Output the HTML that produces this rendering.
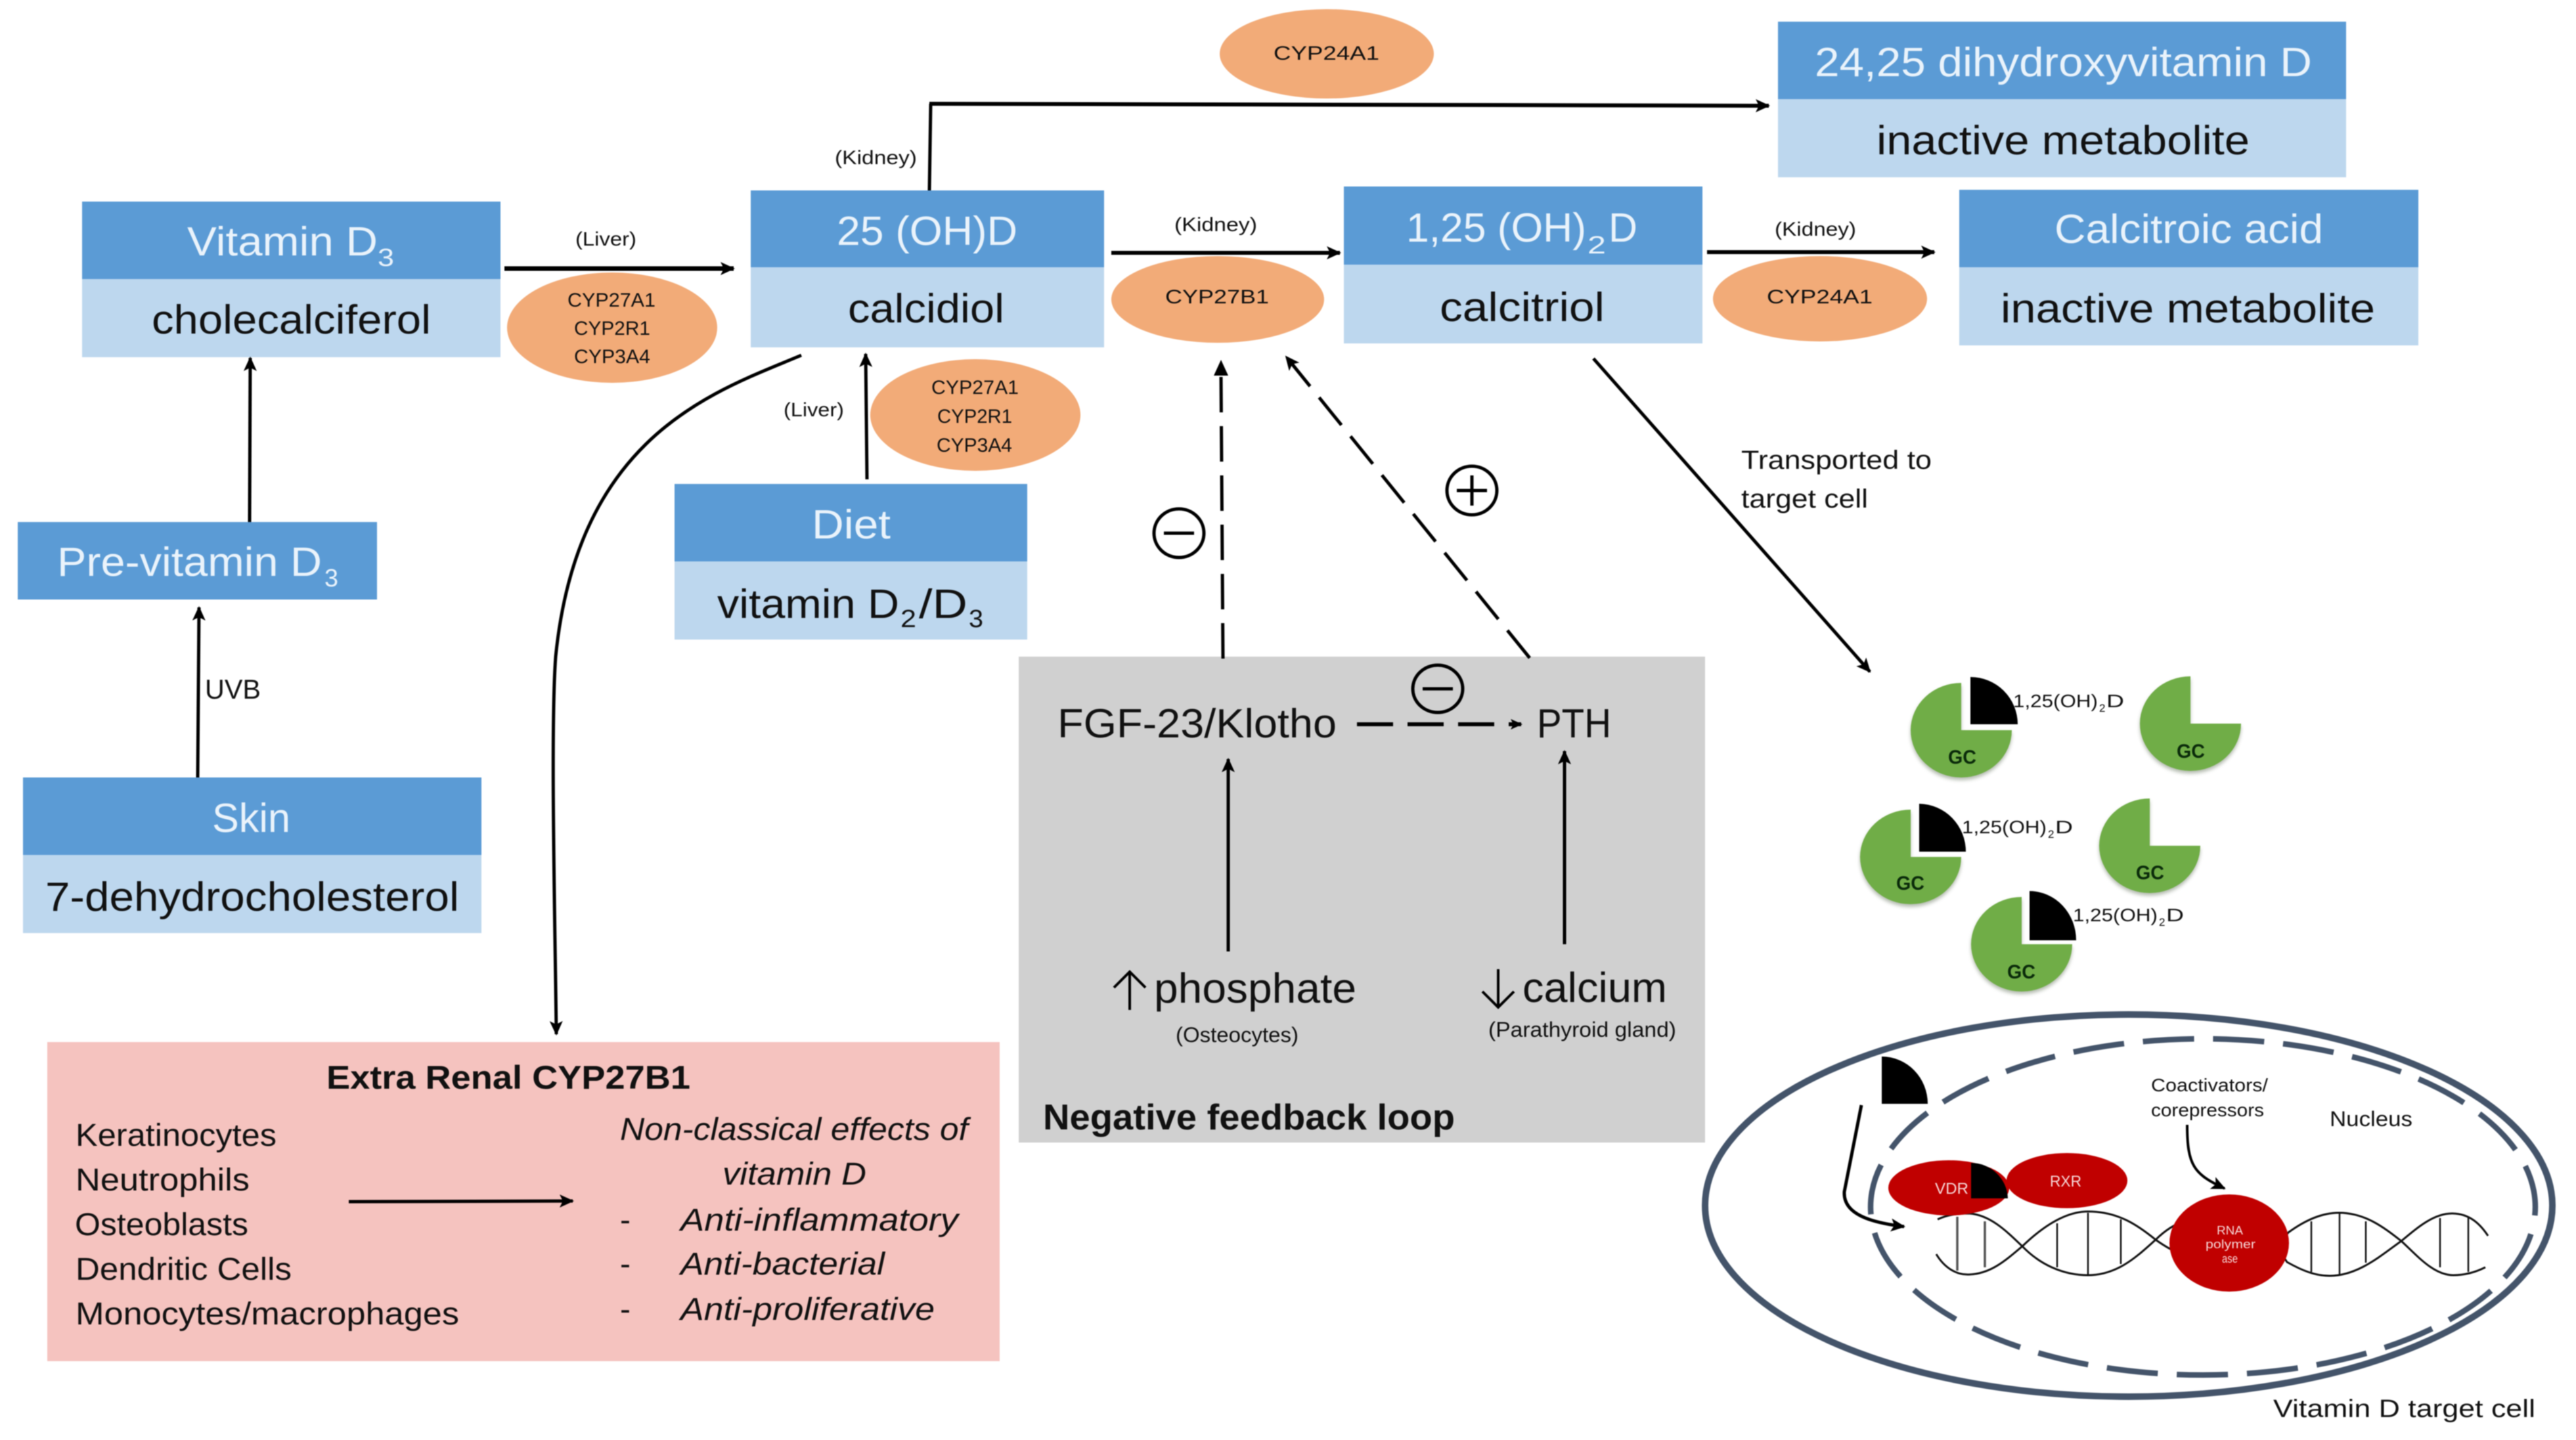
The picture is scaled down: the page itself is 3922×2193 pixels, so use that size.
<!DOCTYPE html>
<html><head><meta charset="utf-8"><style>
html,body{margin:0;padding:0;background:#fff}
svg{display:block;filter:blur(0.8px)}
text{font-family:"Liberation Sans",sans-serif;fill:#111}
.w{fill:#eaf3fb}
.it{font-style:italic}
.b{font-weight:bold}
</style></head><body>
<svg xmlns="http://www.w3.org/2000/svg" width="3922" height="2193" viewBox="0 0 3922 2193">
<defs>
<marker id="a" markerUnits="userSpaceOnUse" markerWidth="26" markerHeight="26" refX="20" refY="13" orient="auto"><path d="M0 3L22 13L0 23L5 13Z" fill="#000"/></marker>
<marker id="s" markerUnits="userSpaceOnUse" markerWidth="26" markerHeight="26" refX="16" refY="13" orient="auto"><path d="M0 5L18 13L0 21L4 13Z" fill="#000"/></marker>
</defs>
<rect width="3922" height="2193" fill="#fff"/>

<!-- boxes -->
<rect x="125" y="307" width="637" height="118" fill="#5b9bd5"/><rect x="125" y="425" width="637" height="119" fill="#bdd7ee"/>
<rect x="1143" y="290" width="538" height="117" fill="#5b9bd5"/><rect x="1143" y="407" width="538" height="122" fill="#bdd7ee"/>
<rect x="27" y="795" width="547" height="118" fill="#5b9bd5"/>
<rect x="1027" y="737" width="537" height="118" fill="#5b9bd5"/><rect x="1027" y="855" width="537" height="119" fill="#bdd7ee"/>
<rect x="2707" y="33" width="865" height="118" fill="#5b9bd5"/><rect x="2707" y="151" width="865" height="119" fill="#bdd7ee"/>
<rect x="2046" y="284" width="546" height="119" fill="#5b9bd5"/><rect x="2046" y="403" width="546" height="120" fill="#bdd7ee"/>
<rect x="2983" y="289" width="699" height="118" fill="#5b9bd5"/><rect x="2983" y="407" width="699" height="119" fill="#bdd7ee"/>
<rect x="35" y="1184" width="698" height="118" fill="#5b9bd5"/><rect x="35" y="1302" width="698" height="119" fill="#bdd7ee"/>
<rect x="72" y="1587" width="1450" height="486" fill="#f5c3bf"/>
<rect x="1551" y="1000" width="1045" height="740" fill="#d0d0d0"/>

<!-- ellipses -->
<g fill="#f2ab78">
<ellipse cx="932" cy="499" rx="160" ry="84"/>
<ellipse cx="1485" cy="632" rx="160" ry="85"/>
<ellipse cx="2020" cy="82" rx="163" ry="68"/>
<ellipse cx="1854" cy="456" rx="162" ry="66"/>
<ellipse cx="2771" cy="455" rx="163" ry="65"/>
</g>

<!-- connectors -->
<g fill="none" stroke="#000" stroke-width="5">
<path d="M768 409H1117" stroke-width="7" marker-end="url(#a)"/>
<path d="M1415 290L1417 158" stroke-width="5"/>
<path d="M1415 158L2693 161" stroke-width="6" marker-end="url(#a)"/>
<path d="M1692 385H2040" stroke-width="6" marker-end="url(#a)"/>
<path d="M2599 384H2945" stroke-width="6" marker-end="url(#a)"/>
<path d="M380 795L381 545" marker-end="url(#a)"/>
<path d="M301 1184L303 925" marker-end="url(#a)"/>
<path d="M1320 730L1318 539" marker-end="url(#a)"/>
<path d="M1220 541C1090 596 880 660 846 1000C838 1110 845 1400 847 1575" marker-end="url(#a)"/>
<path d="M1862 1003L1859 573" stroke-dasharray="54 21"/>
<path d="M1859 548L1870 572H1848Z" fill="#000" stroke="none"/>
<path d="M2329 1002L1958 543" stroke-dasharray="54 22" marker-end="url(#a)"/>
<path d="M2426 546L2847 1023" marker-end="url(#a)"/>
<path d="M2066 1103H2316" stroke-width="6" stroke-dasharray="55 22" marker-end="url(#s)"/>
<path d="M1870 1449V1156" stroke-width="5" marker-end="url(#a)"/>
<path d="M2382 1438V1144" stroke-width="5" marker-end="url(#a)"/>
<path d="M531 1830L872 1829" stroke-width="5" marker-end="url(#a)"/>
<path d="M1720 1538V1480M1696 1504L1720 1480L1744 1504" stroke-width="4"/>
<path d="M2281 1476V1534M2257 1510L2281 1534L2305 1510" stroke-width="4"/>
<ellipse cx="1795" cy="812" rx="38" ry="37"/>
<path d="M1772 812H1818"/>
<ellipse cx="2241" cy="747" rx="38" ry="37"/>
<path d="M2218 747H2264M2241 724V770"/>
<ellipse cx="2189" cy="1049" rx="38" ry="36"/>
<path d="M2166 1049H2212"/>
</g>

<!-- box texts -->
<g font-size="62">
<text class="w" x="285" y="389" textLength="290" lengthAdjust="spacingAndGlyphs">Vitamin D</text>
<text class="w" x="575" y="405" font-size="38" textLength="25" lengthAdjust="spacingAndGlyphs">3</text>
<text x="231" y="508" textLength="425" lengthAdjust="spacingAndGlyphs">cholecalciferol</text>
<text class="w" x="1274" y="373" textLength="275" lengthAdjust="spacingAndGlyphs">25 (OH)D</text>
<text x="1291" y="491" textLength="238" lengthAdjust="spacingAndGlyphs">calcidiol</text>
<text class="w" x="87" y="877" textLength="403" lengthAdjust="spacingAndGlyphs">Pre-vitamin D</text>
<text class="w" x="494" y="893" font-size="38" textLength="21" lengthAdjust="spacingAndGlyphs">3</text>
<text class="w" x="1236" y="820" textLength="120" lengthAdjust="spacingAndGlyphs">Diet</text>
<text x="1092" y="941" textLength="277" lengthAdjust="spacingAndGlyphs">vitamin D</text>
<text x="1371" y="955" font-size="38" textLength="24" lengthAdjust="spacingAndGlyphs">2</text>
<text x="1399" y="941" textLength="74" lengthAdjust="spacingAndGlyphs">/D</text>
<text x="1475" y="955" font-size="38" textLength="22" lengthAdjust="spacingAndGlyphs">3</text>
<text class="w" x="2763" y="116" textLength="757" lengthAdjust="spacingAndGlyphs">24,25 dihydroxyvitamin D</text>
<text x="2857" y="235" textLength="568" lengthAdjust="spacingAndGlyphs">inactive metabolite</text>
<text class="w" x="2141" y="368" textLength="274" lengthAdjust="spacingAndGlyphs">1,25 (OH)</text>
<text class="w" x="2417" y="386" font-size="38" textLength="28" lengthAdjust="spacingAndGlyphs">2</text>
<text class="w" x="2449" y="368" textLength="44" lengthAdjust="spacingAndGlyphs">D</text>
<text x="2192" y="489" textLength="251" lengthAdjust="spacingAndGlyphs">calcitriol</text>
<text class="w" x="3128" y="370" textLength="409" lengthAdjust="spacingAndGlyphs">Calcitroic acid</text>
<text x="3046" y="491" textLength="570" lengthAdjust="spacingAndGlyphs">inactive metabolite</text>
<text class="w" x="323" y="1267" textLength="119" lengthAdjust="spacingAndGlyphs">Skin</text>
<text x="69" y="1387" textLength="630" lengthAdjust="spacingAndGlyphs">7-dehydrocholesterol</text>
</g>

<!-- small labels -->
<g font-size="30">
<text x="876" y="374" textLength="93" lengthAdjust="spacingAndGlyphs">(Liver)</text>
<text x="864" y="467" textLength="134" lengthAdjust="spacingAndGlyphs">CYP27A1</text>
<text x="874" y="510" textLength="116" lengthAdjust="spacingAndGlyphs">CYP2R1</text>
<text x="874" y="553" textLength="116" lengthAdjust="spacingAndGlyphs">CYP3A4</text>
<text x="1418" y="600" textLength="133" lengthAdjust="spacingAndGlyphs">CYP27A1</text>
<text x="1427" y="644" textLength="114" lengthAdjust="spacingAndGlyphs">CYP2R1</text>
<text x="1426" y="688" textLength="115" lengthAdjust="spacingAndGlyphs">CYP3A4</text>
<text x="1271" y="250" textLength="125" lengthAdjust="spacingAndGlyphs">(Kidney)</text>
<text x="1193" y="634" textLength="92" lengthAdjust="spacingAndGlyphs">(Liver)</text>
<text x="1939" y="91" textLength="161" lengthAdjust="spacingAndGlyphs">CYP24A1</text>
<text x="1788" y="352" textLength="126" lengthAdjust="spacingAndGlyphs">(Kidney)</text>
<text x="1774" y="462" textLength="158" lengthAdjust="spacingAndGlyphs">CYP27B1</text>
<text x="2702" y="359" textLength="124" lengthAdjust="spacingAndGlyphs">(Kidney)</text>
<text x="2690" y="462" textLength="161" lengthAdjust="spacingAndGlyphs">CYP24A1</text>
</g>
<text x="312" y="1064" font-size="42" textLength="85" lengthAdjust="spacingAndGlyphs">UVB</text>
<text x="2651" y="714" font-size="40" textLength="290" lengthAdjust="spacingAndGlyphs">Transported to</text>
<text x="2651" y="773" font-size="40" textLength="193" lengthAdjust="spacingAndGlyphs">target cell</text>

<!-- grey panel text -->
<text x="1610" y="1123" font-size="62" textLength="425" lengthAdjust="spacingAndGlyphs">FGF-23/Klotho</text>
<text x="2340" y="1123" font-size="62" textLength="113" lengthAdjust="spacingAndGlyphs">PTH</text>
<text x="1757" y="1527" font-size="64" textLength="308" lengthAdjust="spacingAndGlyphs">phosphate</text>
<text x="2318" y="1526" font-size="64" textLength="220" lengthAdjust="spacingAndGlyphs">calcium</text>
<text x="1790" y="1587" font-size="32" textLength="187" lengthAdjust="spacingAndGlyphs">(Osteocytes)</text>
<text x="2266" y="1579" font-size="32" textLength="286" lengthAdjust="spacingAndGlyphs">(Parathyroid gland)</text>
<text class="b" x="1588" y="1720" font-size="55" textLength="627" lengthAdjust="spacingAndGlyphs">Negative feedback loop</text>

<!-- extra renal text -->
<text class="b" x="497" y="1658" font-size="50" textLength="554" lengthAdjust="spacingAndGlyphs">Extra Renal CYP27B1</text>
<g font-size="48">
<text x="115" y="1745" textLength="306" lengthAdjust="spacingAndGlyphs">Keratinocytes</text>
<text x="115" y="1813" textLength="265" lengthAdjust="spacingAndGlyphs">Neutrophils</text>
<text x="114" y="1881" textLength="264" lengthAdjust="spacingAndGlyphs">Osteoblasts</text>
<text x="115" y="1949" textLength="329" lengthAdjust="spacingAndGlyphs">Dendritic Cells</text>
<text x="115" y="2017" textLength="584" lengthAdjust="spacingAndGlyphs">Monocytes/macrophages</text>
<text class="it" x="944" y="1736" textLength="530" lengthAdjust="spacingAndGlyphs">Non-classical effects of</text>
<text class="it" x="1100" y="1804" textLength="219" lengthAdjust="spacingAndGlyphs">vitamin D</text>
<text x="944" y="1874">-</text>
<text class="it" x="1036" y="1874" textLength="423" lengthAdjust="spacingAndGlyphs">Anti-inflammatory</text>
<text x="944" y="1941">-</text>
<text class="it" x="1036" y="1941" textLength="311" lengthAdjust="spacingAndGlyphs">Anti-bacterial</text>
<text x="944" y="2010">-</text>
<text class="it" x="1036" y="2010" textLength="387" lengthAdjust="spacingAndGlyphs">Anti-proliferative</text>
</g>

<!-- GC pies -->
<g fill="#70ad47" style="filter:drop-shadow(0 4px 3px rgba(40,60,30,.35))">
<path transform="translate(2986 1112)" d="M0 0L0-72A77 72 0 1 0 77 0Z"/>
<path transform="translate(3335 1102)" d="M0 0L0-72A77 72 0 1 0 77 0Z"/>
<path transform="translate(2909 1305)" d="M0 0L0-72A77 72 0 1 0 77 0Z"/>
<path transform="translate(3273 1288)" d="M0 0L0-72A77 72 0 1 0 77 0Z"/>
<path transform="translate(3078 1438)" d="M0 0L0-72A77 72 0 1 0 77 0Z"/>
</g>
<g fill="#000">
<path transform="translate(3000 1103)" d="M0 0V-72A72 72 0 0 1 72 0Z"/>
<path transform="translate(2922 1297)" d="M0 0V-73A72 73 0 0 1 71 0Z"/>
<path transform="translate(3090 1432)" d="M0 0V-75A71 75 0 0 1 71 0Z"/>
</g>
<g font-size="30">
<text class="b" x="2966" y="1163" textLength="43" lengthAdjust="spacingAndGlyphs" style="fill:#0a2a0a">GC</text>
<text class="b" x="3314" y="1154" textLength="43" lengthAdjust="spacingAndGlyphs" style="fill:#0a2a0a">GC</text>
<text class="b" x="2887" y="1355" textLength="43" lengthAdjust="spacingAndGlyphs" style="fill:#0a2a0a">GC</text>
<text class="b" x="3252" y="1339" textLength="43" lengthAdjust="spacingAndGlyphs" style="fill:#0a2a0a">GC</text>
<text class="b" x="3056" y="1490" textLength="43" lengthAdjust="spacingAndGlyphs" style="fill:#0a2a0a">GC</text>
</g>
<g font-size="28">
<text x="3065" y="1077" textLength="129" lengthAdjust="spacingAndGlyphs">1,25(OH)</text><text x="3196" y="1084" font-size="17">2</text><text x="3207" y="1077" textLength="27" lengthAdjust="spacingAndGlyphs">D</text>
<text x="2987" y="1269" textLength="129" lengthAdjust="spacingAndGlyphs">1,25(OH)</text><text x="3118" y="1276" font-size="17">2</text><text x="3129" y="1269" textLength="27" lengthAdjust="spacingAndGlyphs">D</text>
<text x="3156" y="1403" textLength="129" lengthAdjust="spacingAndGlyphs">1,25(OH)</text><text x="3287" y="1410" font-size="17">2</text><text x="3298" y="1403" textLength="27" lengthAdjust="spacingAndGlyphs">D</text>
</g>

<!-- cell -->
<ellipse cx="3241" cy="1836" rx="645" ry="291" fill="none" stroke="#44546a" stroke-width="10"/>
<ellipse cx="3354" cy="1838" rx="506" ry="256" fill="none" stroke="#44546a" stroke-width="8.5" stroke-dasharray="78 28.9" stroke-dashoffset="-42"/>
<path transform="translate(2865 1681)" d="M0 0V-72A70 72 0 0 1 70 0Z" fill="#000"/>

<!-- DNA -->
<g fill="none" stroke="#111" stroke-width="3">
<path d="M2948 1910C2960 1930 2978 1942 2998 1941C3030 1940 3052 1921 3079 1898C3110 1868 3145 1845 3179 1845C3225 1845 3255 1866 3282 1888C3340 1930 3430 1950 3484 1877C3510 1858 3535 1847 3561 1847C3600 1847 3628 1868 3656 1890C3680 1912 3705 1942 3735 1942C3755 1942 3772 1936 3784 1930"/>
<path d="M2950 1857C2965 1850 2980 1848 2998 1848C3030 1850 3055 1875 3079 1898C3105 1925 3140 1942 3179 1942C3225 1942 3255 1912 3282 1888C3340 1830 3430 1840 3482 1922C3505 1935 3525 1943 3547 1943C3590 1943 3625 1912 3656 1890C3680 1870 3705 1848 3733 1848C3760 1848 3776 1864 3788 1882"/>
<path d="M2980 1853V1935M3022 1860V1930" stroke="#555" stroke-width="3.5"/>
<path d="M3132 1863V1930M3179 1847V1942M3229 1857V1925M3519 1860V1937M3562 1847V1943M3602 1860V1923M3715 1855V1930M3758 1853V1937" stroke-width="2.5"/>
</g>

<!-- proteins -->
<g fill="#c00000">
<ellipse cx="2967" cy="1809" rx="92" ry="42"/>
<ellipse cx="3147" cy="1798" rx="92" ry="42"/>
<ellipse cx="3394" cy="1893" rx="91" ry="74"/>
</g>
<path transform="translate(3001 1825)" d="M0 0V-54A56 56 0 0 1 56 0Z" fill="#000"/>
<g>
<text x="2946" y="1818" font-size="24" textLength="51" lengthAdjust="spacingAndGlyphs" style="fill:#f6d6d6">VDR</text>
<text x="3121" y="1807" font-size="24" textLength="48" lengthAdjust="spacingAndGlyphs" style="fill:#f6d6d6">RXR</text>
<text x="3375" y="1880" font-size="18" textLength="40" lengthAdjust="spacingAndGlyphs" style="fill:#f6d6d6">RNA</text>
<text x="3358" y="1901" font-size="18" textLength="76" lengthAdjust="spacingAndGlyphs" style="fill:#f6d6d6">polymer</text>
<text x="3383" y="1923" font-size="18" textLength="24" lengthAdjust="spacingAndGlyphs" style="fill:#f6d6d6">ase</text>
</g>
<g fill="none" stroke="#000" stroke-width="5">
<path d="M2834 1683L2808 1815C2806 1850 2850 1862 2899 1868" marker-end="url(#a)"/>
<path d="M3330 1713C3330 1775 3340 1788 3387 1810" marker-end="url(#a)" stroke-width="4"/>
</g>
<text x="3275" y="1662" font-size="28" textLength="178" lengthAdjust="spacingAndGlyphs">Coactivators/</text>
<text x="3275" y="1700" font-size="28" textLength="172" lengthAdjust="spacingAndGlyphs">corepressors</text>
<text x="3547" y="1715" font-size="32" textLength="126" lengthAdjust="spacingAndGlyphs">Nucleus</text>
<text x="3461" y="2158" font-size="38" textLength="399" lengthAdjust="spacingAndGlyphs">Vitamin D target cell</text>
</svg>
</body></html>
